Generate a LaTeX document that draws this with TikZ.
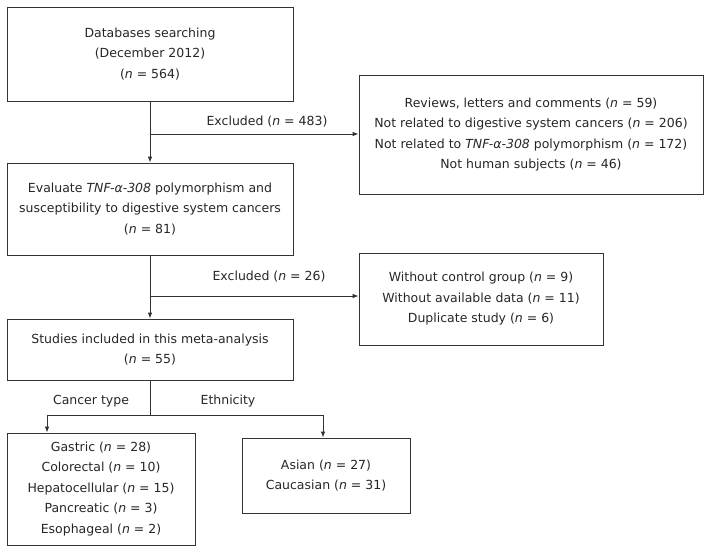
\documentclass[tikz,border=0pt]{standalone}
\usepackage{fontspec}
\setmainfont{DejaVu Sans}
\usetikzlibrary{arrows.meta}

\newcommand{\nn}{\textit{n}}
\newcommand{\tnf}{\textit{TNF-α-308}}

\begin{document}
\begin{tikzpicture}[x=1pt, y=-1pt,
    box/.style={draw=black!80, line width=0.8pt, align=center, inner sep=0pt,
      font=\fontsize{12.5}{20.5}\selectfont, text=black!85},
    lbl/.style={font=\fontsize{12.5}{14}\selectfont, text=black!85},
    arr/.style={draw=black!80, line width=0.8pt, -{Latex[length=6pt,width=4.5pt]}}]
    \useasboundingbox (0,0) rectangle (709,551);
    % main column
    \node[box, minimum width=286pt, minimum height=94pt] (search) at (150,54)
      {Databases searching\\(December 2012)\\(\nn{} = 564)};
    \node[box, minimum width=286pt, minimum height=92pt] (evaluate) at (150,209)
      {Evaluate \tnf{} polymorphism and\\susceptibility to digestive system cancers\\(\nn{} = 81)};
    \node[box, minimum width=286pt, minimum height=61pt] (studies) at (150,349.5)
      {Studies included in this meta-analysis\\(\nn{} = 55)};
    % excluded records
    \node[box, minimum width=344pt, minimum height=119pt] (reviews) at (531,134.5)
      {Reviews, letters and comments (\nn{} = 59)\\Not related to digestive system cancers (\nn{} = 206)\\Not related to \tnf{} polymorphism (\nn{} = 172)\\Not human subjects (\nn{} = 46)};
    \node[box, minimum width=244pt, minimum height=92pt] (control) at (481,299)
      {Without control group (\nn{} = 9)\\Without available data (\nn{} = 11)\\Duplicate study (\nn{} = 6)};
    % subgroups
    \node[box, minimum width=188pt, minimum height=112pt] (cancer) at (101,489)
      {Gastric (\nn{} = 28)\\Colorectal (\nn{} = 10)\\Hepatocellular (\nn{} = 15)\\Pancreatic (\nn{} = 3)\\Esophageal (\nn{} = 2)};
    \node[box, minimum width=168pt, minimum height=75pt] (ethnic) at (326,475.5)
      {Asian (\nn{} = 27)\\Caucasian (\nn{} = 31)};

    \coordinate (ex1) at (search.south |- 0,134);
    \coordinate (ex2) at (search.south |- 0,296);
    \coordinate (split) at (studies.south |- 0,415);
    \coordinate (ex1end) at (reviews.west |- ex1);
    \coordinate (ex2end) at (control.west |- ex2);

    \draw[arr] (search.south) -- (evaluate.north);
    \draw[arr] (ex1) -- (ex1end);
    \draw[arr] (evaluate.south) -- (studies.north);
    \draw[arr] (ex2) -- (ex2end);
    \draw[draw=black!80, line width=0.8pt] (studies.south) -- (split);
    \draw[arr] (split) -| (47,0 |- cancer.north);
    \draw[arr] (split) -| (323,0 |- ethnic.north);

    \node[lbl] (exlbl1) at (267,122) {Excluded (\nn{} = 483)};
    \node[lbl] (exlbl2) at (269,277) {Excluded (\nn{} = 26)};
    \node[lbl] (typelbl) at (91,401) {Cancer type};
    \node[lbl] (ethlbl) at (228,401) {Ethnicity};
  \end{tikzpicture}
\end{document}
